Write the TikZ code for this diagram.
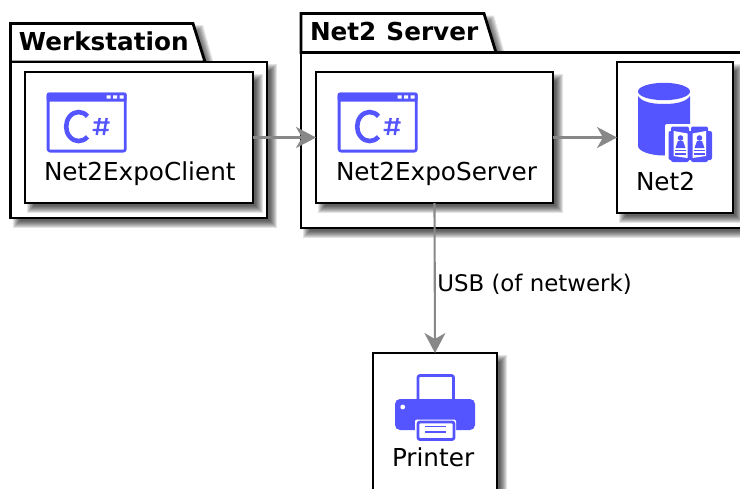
\documentclass[tikz,border=0pt]{standalone}
\usepackage{fontspec}
\setmainfont{DejaVu Sans}
\usetikzlibrary{arrows.meta}
\definecolor{iconblue}{HTML}{5555FF}
\definecolor{linkgray}{HTML}{888888}
\tikzset{
  box/.style={draw=black,fill=white,line width=2.8pt,inner sep=0pt,outer sep=0pt},
  pkgline/.style={draw=black,fill=white,line width=2.8pt,line join=miter},
  nodetext/.style={font=\fontsize{24.7}{28}\selectfont,inner sep=0pt,outer sep=0pt,anchor=base west,text=black},
  pkgtext/.style={font=\fontsize{24.7}{28}\selectfont\bfseries,inner sep=0pt,outer sep=0pt,anchor=base west,text=black},
  linktext/.style={font=\fontsize{22.9}{26}\selectfont,inner sep=0pt,outer sep=0pt,anchor=base west,text=black},
  link/.style={draw=linkgray,line width=2.1pt,-{Stealth[length=20pt,width=21pt,inset=6pt]}},
  iconline/.style={draw=iconblue,line width=2.8pt,line cap=round,line join=round},
  iconfill/.style={fill=iconblue,draw=none},
  pics/csharp/.style={code={
    \draw[iconline,rounded corners=2pt] (1.4,1.4) rectangle (78.6,58.6);
    \fill[iconfill,rounded corners=2pt] (0,0) rectangle (80,9);
    \fill[white] (60,2.8) rectangle +(4,3.2) (66.5,2.8) rectangle +(4,3.2) (73,2.8) rectangle +(4,3.2);
    \draw[draw=iconblue,line width=4.6pt] (40.8,44.3) arc[start angle=45,end angle=315,x radius=12.5,y radius=14.5];
    \draw[draw=iconblue,line width=2.4pt] (50,42.5) -- (53,25.5) (57,42.5) -- (60,25.5) (47,30) -- (63,30) (46,37.5) -- (62,37.5);
  }}
}
\newcommand{\softshadow}[4]{%
  \foreach \g in {4,3,2,1,0,-1,-2,-3}{\fill[black,opacity=.11] (#1+6-\g,#2+6-\g) rectangle (#3+6+\g,#4+6+\g);}%
}
\begin{document}
\begin{tikzpicture}[x=1pt,y=-1pt]
\useasboundingbox (0,0) rectangle (740,488);
\clip (0,0) rectangle (740,488);
\fill[white] (0,0) rectangle (740,488);

% Werkstation package
\softshadow{10.5}{62}{267}{218}
\foreach \g in {4,3,2,1,0,-1,-2,-3}{\fill[black,opacity=.11] (16.5-\g,29-\g) -- (199+\g,29-\g) -- (211+\g,68) -- (16.5-\g,68) -- cycle;}
\path[pkgline] (10.5,62) -- (10.5,23.5) -- (193,23.5) -- (205,62) -- cycle;
\node[box,minimum width=256.5pt,minimum height=156pt] (werkbody) at (138.75,140) {};
\node[pkgtext] (werklabel) at (19,50) {Werkstation};

% Net2 Server package
\softshadow{301}{52.5}{770}{228}
\foreach \g in {4,3,2,1,0,-1,-2,-3}{\fill[black,opacity=.11] (307-\g,19.5-\g) -- (490+\g,19.5-\g) -- (502+\g,58) -- (307-\g,58) -- cycle;}
\path[pkgline] (301,52.5) -- (301,13.5) -- (484,13.5) -- (496,52.5) -- cycle;
\node[box,minimum width=469pt,minimum height=175.5pt] (srvbody) at (535.5,140.25) {};
\node[pkgtext] (srvlabel) at (310,40) {Net2\hspace{1.5pt} Server};

% Components
\softshadow{25}{72}{253}{203}
\node[box,minimum width=228pt,minimum height=131pt] (client) at (139,137.5) {};
\softshadow{316}{72}{553}{203}
\node[box,minimum width=237pt,minimum height=131pt] (server) at (434.5,137.5) {};
\softshadow{617}{62}{733}{213}
\node[box,minimum width=116pt,minimum height=151pt] (net2) at (675,137.5) {};
\softshadow{373}{353}{497}{520}
\node[box,minimum width=124pt,minimum height=167pt] (printer) at (435,436.5) {};

% Icons
\pic at (46.7,92.5) {csharp};
\pic at (337.7,92.5) {csharp};

% Database icon
\fill[iconfill] (638,96) -- (638,146)
  .. controls (638,151) and (650,155.5) .. (664,155.5) .. controls (678,155.5) and (690,151) .. (690,146) -- (690,96)
  .. controls (686,102) and (676,104) .. (664,104) .. controls (652,104) and (642,102) .. (638,96) -- cycle;
\fill[iconfill] (664,91.5) ellipse[x radius=26,y radius=8.7];
% Book icon
\fill[white,rounded corners=2pt] (665,124) rectangle (715,165);
\fill[iconfill,rounded corners=2pt] (668.5,131) rectangle (712,160);
\fill[iconfill,rounded corners=2pt] (671,126.5) rectangle (689,162);
\fill[iconfill,rounded corners=2pt] (691,126.5) rectangle (708,162);
\fill[white] (673.5,131) -- (687.5,133.5) -- (687.5,158) -- (673.5,156) -- cycle;
\fill[white] (706,131) -- (692.5,133.5) -- (692.5,158) -- (706,156) -- cycle;
\foreach \cx in {680.5,699.5}{
  \fill[iconblue] (\cx,138) circle[radius=2.8];
  \fill[iconblue] (\cx-5,148) -- (\cx-2.5,141) -- (\cx+2.5,141) -- (\cx+5,148) -- cycle;
  \fill[iconblue] (\cx-5.5,149.8) rectangle (\cx+5.5,151.3);
  \fill[iconblue] (\cx-5.5,153) rectangle (\cx+5.5,154.5);
}

% Printer icon
\draw[iconline,rounded corners=2pt] (418,375.5) rectangle (453.5,401);
\fill[iconfill,rounded corners=5pt] (395,399) rectangle (475,430);
\fill[white] (402.7,407) circle[radius=2.4];
\fill[white,rounded corners=2pt] (415,419.5) rectangle (456,442);
\draw[iconline,fill=white,rounded corners=2pt] (418,422) rectangle (454,439.5);
\draw[draw=iconblue,line width=1.8pt] (425,426.5) -- (446,426.5) (425,432) -- (446,432);

% Labels
\node[nodetext] (clientlabel) at (44,180) {Net2ExpoClient};
\node[nodetext] (serverlabel) at (336,180) {Net2ExpoServer};
\node[nodetext] (netlabel) at (636,190) {Net2};
\node[nodetext] (printerlabel) at (392,466) {Printer};

% Connectors
\draw[link] (client.east) -- (server.west);
\draw[link] (server.east) -- (net2.west);
\draw[link] (server.south) -- node[linktext,pos=.5,anchor=base west,xshift=2.5pt,yshift=-13pt] (usblabel) {USB (of netwerk)} (printer.north);
\end{tikzpicture}
\end{document}
